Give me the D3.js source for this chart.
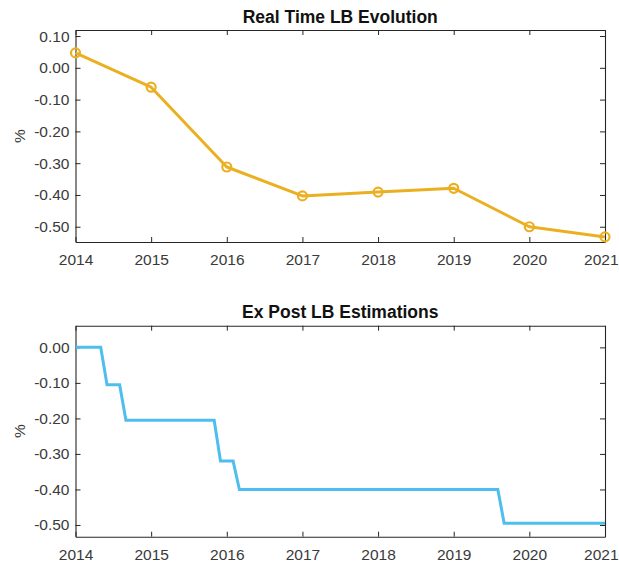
<!DOCTYPE html>
<html>
<head>
<meta charset="utf-8">
<script src="https://cdn.jsdelivr.net/npm/d3@7"></script>
<style>
  html, body { margin: 0; padding: 0; background: #fff; }
  svg { display: block; }
  text { font-family: "Liberation Sans", Arial, Helvetica, sans-serif; }
</style>
</head>
<body>
<svg id="chart" width="619" height="563"></svg>
<script>
// Real-time lower bound, one value per year (%)
const rtYears = [2014, 2015, 2016, 2017, 2018, 2019, 2020, 2021];
const rtValues = [0.047, -0.061, -0.312, -0.403, -0.391, -0.379, -0.500, -0.532];

// Ex post lower bound estimations, monthly from Jan 2014 to Jan 2021 (%)
const epStartYear = 2014;
const epValues = [
  0, 0, 0, 0, 0, -0.105, -0.105, -0.105, -0.205, -0.205, -0.205, -0.205,                 // 2014
  -0.205, -0.205, -0.205, -0.205, -0.205, -0.205, -0.205, -0.205, -0.205, -0.205, -0.205, -0.32, // 2015
  -0.32, -0.32, -0.40, -0.40, -0.40, -0.40, -0.40, -0.40, -0.40, -0.40, -0.40, -0.40,    // 2016
  -0.40, -0.40, -0.40, -0.40, -0.40, -0.40, -0.40, -0.40, -0.40, -0.40, -0.40, -0.40,    // 2017
  -0.40, -0.40, -0.40, -0.40, -0.40, -0.40, -0.40, -0.40, -0.40, -0.40, -0.40, -0.40,    // 2018
  -0.40, -0.40, -0.40, -0.40, -0.40, -0.40, -0.40, -0.40, -0.495, -0.495, -0.495, -0.495, // 2019
  -0.495, -0.495, -0.495, -0.495, -0.495, -0.495, -0.495, -0.495, -0.495, -0.495, -0.495, -0.495, // 2020
  -0.495                                                                                 // 2021
];

// Axis ticks
const xTicks = [2014, 2015, 2016, 2017, 2018, 2019, 2020, 2021];
const yTicksTop = [0.10, 0.00, -0.10, -0.20, -0.30, -0.40, -0.50];
const yTicksBottom = [0.00, -0.10, -0.20, -0.30, -0.40, -0.50];

const titles = ["Real Time LB Evolution", "Ex Post LB Estimations"];
const yLabel = "%";

const svg = d3.select("#chart");
const width = +svg.attr("width");
const axisColor = "#262626";
const labelColor = "#3a3a3a";
const tickFont = "15.5px";

function drawPanel(cfg) {
  const { left, right, top, bottom, yDomain, yTicks, title, titleY, labelY } = cfg;
  const x = d3.scaleLinear().domain([2014, 2021]).range([left, right]);
  const y = d3.scaleLinear().domain(yDomain).range([bottom, top]);
  const g = svg.append("g");

  const fmt = d3.format(".2f");
  const fmtY = v => (Math.abs(v) < 1e-9 ? "0.00" : fmt(v).replace("−", "-"));

  // Bottom axis with labels
  const xb = g.append("g").attr("transform", `translate(0,${bottom})`)
    .call(d3.axisBottom(x).tickValues(xTicks).tickFormat(d3.format("d"))
      .tickSizeInner(-5).tickSizeOuter(0).tickPadding(12));
  // Top axis, ticks only
  const xt = g.append("g").attr("transform", `translate(0,${top})`)
    .call(d3.axisTop(x).tickValues(xTicks).tickFormat("")
      .tickSizeInner(-5).tickSizeOuter(0));
  // Left axis with labels
  const yl = g.append("g").attr("transform", `translate(${left},0)`)
    .call(d3.axisLeft(y).tickValues(yTicks).tickFormat(fmtY)
      .tickSizeInner(-5).tickSizeOuter(0).tickPadding(6));
  // Right axis, ticks only
  const yr = g.append("g").attr("transform", `translate(${right},0)`)
    .call(d3.axisRight(y).tickValues(yTicks).tickFormat("")
      .tickSizeInner(-5).tickSizeOuter(0));

  [xb, xt, yl, yr].forEach(a => {
    a.select(".domain").attr("stroke", axisColor).attr("stroke-width", 1.1);
    a.selectAll(".tick line").attr("stroke", axisColor).attr("stroke-width", 1);
    a.selectAll(".tick text")
      .attr("fill", labelColor)
      .style("font-size", tickFont)
      .style("font-family", "'Liberation Sans', Arial, sans-serif");
  });

  // Keep the last year label inside the page edge
  xb.selectAll(".tick text")
    .filter(d => d === xTicks[xTicks.length - 1])
    .attr("text-anchor", "end")
    .attr("x", width - 1 - right);

  // Title
  g.append("text")
    .attr("x", (left + right) / 2).attr("y", titleY)
    .attr("text-anchor", "middle")
    .style("font-size", "17.5px").style("font-weight", "bold")
    .attr("fill", "#111")
    .text(title);

  // Y label
  g.append("text")
    .attr("transform", `translate(25,${labelY}) rotate(-90)`)
    .attr("text-anchor", "middle")
    .style("font-size", tickFont)
    .attr("fill", labelColor)
    .text(yLabel);

  return { g, x, y };
}

// Upper panel: real time lower bound, yearly with circle markers
const p1 = drawPanel({
  left: 75.5, right: 605, top: 30, bottom: 242,
  yDomain: [-0.548, 0.119], yTicks: yTicksTop,
  title: titles[0], titleY: 23, labelY: 136
});
const gold = "#EBB022";
const line1 = d3.line().x((d, i) => p1.x(rtYears[i])).y(d => p1.y(d));
p1.g.append("path")
  .datum(rtValues)
  .attr("d", line1)
  .attr("fill", "none")
  .attr("stroke", gold)
  .attr("stroke-width", 3)
  .attr("stroke-linejoin", "round");
p1.g.selectAll("circle.pt")
  .data(rtValues)
  .join("circle")
  .attr("class", "pt")
  .attr("cx", (d, i) => p1.x(rtYears[i]))
  .attr("cy", d => p1.y(d))
  .attr("r", 4.5)
  .attr("fill", "none")
  .attr("stroke", gold)
  .attr("stroke-width", 2.2);

// Lower panel: ex post estimations, monthly
const p2 = drawPanel({
  left: 75.5, right: 605, top: 325.7, bottom: 536.7,
  yDomain: [-0.533, 0.061], yTicks: yTicksBottom,
  title: titles[1], titleY: 318, labelY: 431
});
const blue = "#4DBEEE";
const line2 = d3.line()
  .x((d, i) => p2.x(epStartYear + i / 12))
  .y(d => p2.y(d));
p2.g.append("path")
  .datum(epValues)
  .attr("d", line2)
  .attr("fill", "none")
  .attr("stroke", blue)
  .attr("stroke-width", 3)
  .attr("stroke-linejoin", "miter");
</script>
</body>
</html>
